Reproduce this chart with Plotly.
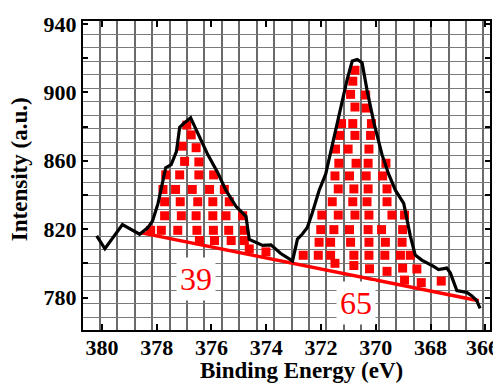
import plotly.graph_objects as go

# Black spectrum trace (binding energy in eV, intensity in a.u.)
spec_x = [380.19, 379.89, 379.25, 378.62, 378.32, 378.15, 377.95, 377.67, 377.47, 377.28,
          377.16, 377.04, 376.76, 376.50, 376.13, 375.77, 375.47, 375.10, 374.74, 374.62,
          374.13, 373.83, 373.47, 373.04, 372.86, 372.68, 372.50, 372.32, 372.07, 371.83,
          371.59, 371.28, 371.04, 370.86, 370.68, 370.50, 370.32, 370.07, 369.77, 369.53,
          369.28, 368.98, 368.74, 368.56, 368.32, 367.89, 367.71, 367.41, 367.28, 367.04,
          366.68, 366.50, 366.32, 366.19]
spec_y = [816.1, 808.5, 822.6, 817.0, 820.9, 824.8, 835.0, 855.9, 857.7, 865.3,
          879.5, 881.4, 885.1, 875.7, 863.4, 853.0, 842.6, 833.2, 827.5, 814.0,
          810.5, 810.8, 805.7, 801.4, 814.2, 817.1, 820.9, 829.4, 842.6, 852.1,
          869.1, 891.8, 907.8, 918.3, 919.2, 917.3, 901.3, 882.3, 863.4, 852.1,
          842.6, 835.0, 816.1, 804.8, 801.9, 798.2, 796.3, 797.2, 794.4, 784.0,
          783.0, 781.1, 778.3, 773.6]

# Red baseline
base_x = [378.55, 366.24]
base_y = [817.8, 778.1]

# Red counting squares, peak 1 (39 squares)
sq1_x = [376.90, 376.74, 377.07, 376.56, 376.98, 376.46,
         377.67, 377.16, 376.46, 375.92,
         377.77, 377.31, 376.70, 376.07, 375.53,
         377.71, 377.14, 376.50, 375.95, 375.35,
         377.71, 377.10, 376.56, 375.95, 375.47, 374.86,
         378.22, 377.83, 377.23, 376.53, 375.93, 375.37, 374.80,
         376.44, 375.89, 375.28, 374.80, 374.01, 374.62]
sq1_y = [880.8, 875.1, 868.5, 867.6, 859.6, 859.3,
         851.7, 851.7, 851.7, 851.7,
         843.2, 843.2, 843.2, 843.2, 843.2,
         836.0, 836.0, 836.0, 836.0, 836.0,
         827.8, 827.8, 827.8, 827.8, 827.8, 827.8,
         819.3, 819.3, 819.3, 819.3, 819.3, 819.3, 819.3,
         813.3, 813.3, 813.3, 813.3, 806.7, 808.4]

# Red counting squares, peak 2
sq2_x = [370.76, 370.84, 370.92, 370.37, 370.76, 370.35,
         371.25, 370.84, 370.16, 371.32, 370.76, 370.19,
         371.47, 371.01, 370.25,
         371.35, 370.72, 370.28, 369.63,
         371.49, 370.96, 370.35, 369.75,
         371.37, 370.80, 370.28, 369.59,
         371.59, 370.84, 370.32, 369.59,
         371.97, 371.37, 370.76, 370.25, 369.41, 368.95,
         372.01, 371.53, 370.96, 370.28, 369.79, 369.02,
         372.07, 371.65, 370.92, 370.25, 369.65, 369.04,
         372.65, 372.10, 371.65, 370.80, 370.25, 369.67, 369.10, 368.74,
         371.49, 370.80, 370.23, 369.59, 369.02, 368.50,
         368.95, 368.34, 367.61]
sq2_y = [912.9, 906.5, 898.8, 898.4, 891.4, 890.8,
         881.7, 881.7, 881.7, 874.8, 874.8, 874.8,
         866.8, 866.8, 866.8,
         858.5, 858.5, 858.5, 858.5,
         851.1, 851.1, 851.1, 851.1,
         843.5, 843.5, 843.5, 843.5,
         836.0, 836.0, 836.0, 836.0,
         828.2, 828.2, 828.2, 828.2, 828.2, 828.2,
         819.7, 819.7, 819.7, 819.7, 819.7, 819.7,
         812.3, 812.3, 812.3, 812.3, 812.3, 812.3,
         804.7, 804.7, 804.7, 804.7, 804.7, 804.7, 804.7, 804.7,
         800.0, 798.7, 796.8, 795.3, 797.2, 796.7,
         790.2, 788.7, 789.6]

# Area counts written on the chart
count_labels = ["39", "65"]
count_x = [376.55, 370.73]
count_y = [791.0, 776.5]

x_ticks = [380, 378, 376, 374, 372, 370, 368, 366]
x_tick_text = ["380", "378", "376", "374", "372", "370", "368", "366\u00a0"]
y_ticks = [780, 820, 860, 900, 940]

FONT = "Times New Roman, Liberation Serif, Tinos, serif"

fig = go.Figure()
fig.add_trace(go.Scatter(x=sq1_x + sq2_x, y=sq1_y + sq2_y, mode="markers",
                         marker=dict(symbol="square", size=9, color="#ff0000",
                                     line=dict(width=0)),
                         hoverinfo="skip", showlegend=False))
fig.add_trace(go.Scatter(x=base_x, y=base_y, mode="lines",
                         line=dict(color="#ff0000", width=3.5),
                         showlegend=False))
fig.add_trace(go.Scatter(x=spec_x, y=spec_y, mode="lines",
                         line=dict(color="black", width=3.2),
                         showlegend=False))

for t, xx, yy in zip(count_labels, count_x, count_y):
    fig.add_annotation(x=xx, y=yy, xref="x", yref="y", text=t, showarrow=False,
                       font=dict(family=FONT, size=32, color="#ff0000"),
                       bgcolor="white", borderpad=3)

fig.add_annotation(x=0.538, y=-0.132, xref="paper", yref="paper",
                   text="Binding Energy (eV)", showarrow=False,
                   xanchor="center", yanchor="middle",
                   font=dict(family=FONT, size=23, color="black", weight="bold"))
fig.add_annotation(x=-0.156, y=0.519, xref="paper", yref="paper",
                   text="Intensity (a.u.)", showarrow=False, textangle=-90,
                   xanchor="center", yanchor="middle",
                   font=dict(family=FONT, size=23, color="black", weight="bold"))

fig.update_layout(
    width=501, height=391,
    # page body adds an 8px offset; margins compensate for it
    margin=dict(l=75, r=17, t=4, b=69),
    paper_bgcolor="white", plot_bgcolor="white",
    showlegend=False,
    xaxis=dict(range=[380.69, 365.83], tickmode="array", tickvals=x_ticks,
               ticktext=x_tick_text, ticklabeloverflow="allow",
               ticklabelstandoff=-3,
               ticks="inside", ticklen=6, tickwidth=2, tickcolor="black",
               showline=True, linewidth=2, linecolor="black", mirror="ticks",
               showgrid=False, zeroline=False,
               tickfont=dict(family=FONT, size=22, color="black", weight="bold"),
               minor=dict(tickmode="linear", tick0=380.073, dtick=0.6364,
                          showgrid=True, gridcolor="#6a6a6a", gridwidth=1.6,
                          ticks="")),
    yaxis=dict(range=[761.0, 941.7], tickmode="linear", tick0=780, dtick=20,
               ticklabelstep=2, ticklabeloverflow="allow",
               ticks="inside", ticklen=5, tickwidth=2, tickcolor="black",
               showline=True, linewidth=2, linecolor="black", mirror="ticks",
               showgrid=False, zeroline=False,
               tickfont=dict(family=FONT, size=22, color="black", weight="bold"),
               minor=dict(tickmode="linear", tick0=933.92, dtick=7.875,
                          showgrid=True, gridcolor="#7a7a7a", gridwidth=1.4,
                          ticks="")),
)

fig.write_html("out.html")
